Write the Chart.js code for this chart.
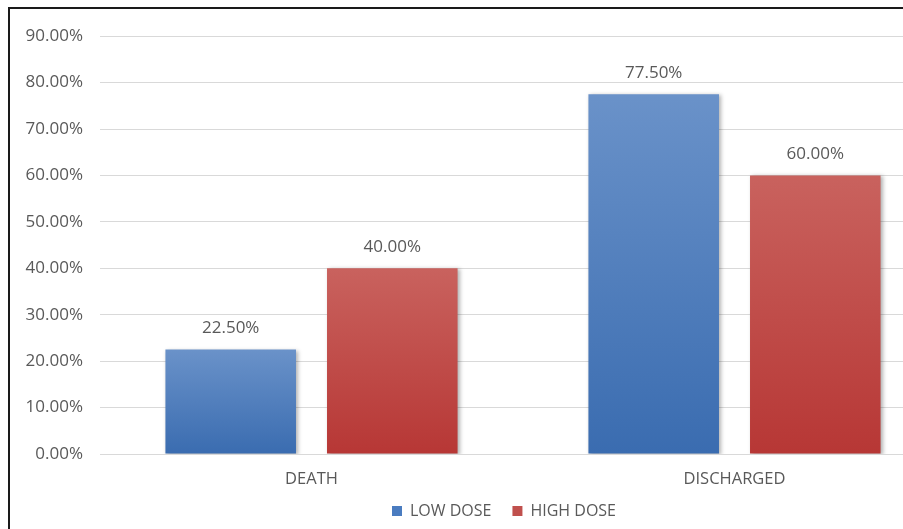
<!DOCTYPE html>
<html>
<head>
<meta charset="utf-8">
<script src="https://cdn.jsdelivr.net/npm/chart.js@4.4.0/dist/chart.umd.min.js"></script>
<style>
  html, body { margin: 0; padding: 0; background: #fff; overflow: hidden; width: 903px; height: 529px; }
  #frame { position: absolute; left: 8px; top: 7px; border-top: 2px solid #1a1a1a; border-left: 2px solid #1a1a1a; width: 1000px; height: 560px; }
  canvas { display: block; }
</style>
</head>
<body>
<div id="frame"><canvas id="chart" width="988" height="528"></canvas></div>
<script>
// data
const categories = ['DEATH', 'DISCHARGED'];
const seriesNames = ['LOW DOSE', 'HIGH DOSE'];
const lowDose = [22.5, 77.5];
const highDose = [40, 60];
const yMin = 0, yMax = 90, yStep = 10;

const textColor = '#595959';
const fontSize = 16.5;
const numberSize = 17;
Chart.defaults.font.family = '"Open Sans", sans-serif';

// vertical gradient per bar, lighter at the top like the Excel style
function barGradient(top, bottom) {
  return (ctx) => {
    const chart = ctx.chart;
    const y = chart.scales.y;
    if (!chart.chartArea || !y || ctx.type !== 'data') return bottom;
    const y0 = y.getPixelForValue(ctx.raw);
    const y1 = y.getPixelForValue(0);
    if (!isFinite(y0) || !isFinite(y1) || y0 === y1) return bottom;
    const g = chart.ctx.createLinearGradient(0, y0, 0, y1);
    g.addColorStop(0, top);
    g.addColorStop(1, bottom);
    return g;
  };
}

const legendColors = ['#4a7cc0', '#c0504d'];

const barShadow = {
  id: 'barShadow',
  beforeDatasetsDraw(chart) {
    const c = chart.ctx;
    c.save();
    c.shadowColor = 'rgba(0,0,0,0.3)';
    c.shadowBlur = 4;
    c.shadowOffsetX = 2;
    c.shadowOffsetY = 1;
  },
  afterDatasetsDraw(chart) {
    chart.ctx.restore();
  }
};

const valueLabels = {
  id: 'valueLabels',
  afterDatasetsDraw(chart) {
    const c = chart.ctx;
    c.save();
    c.font = numberSize + 'px "Open Sans", sans-serif';
    c.fillStyle = textColor;
    c.textAlign = 'center';
    c.textBaseline = 'middle';
    chart.data.datasets.forEach((ds, i) => {
      chart.getDatasetMeta(i).data.forEach((bar, j) => {
        c.fillText(ds.data[j].toFixed(2) + '%', bar.x, bar.y - 21);
      });
    });
    c.restore();
  }
};

// pull the legend up a bit closer to the axis labels (wide item gap needs big padding)
const legendLift = {
  id: 'legendLift',
  afterLayout(chart) {
    if (chart.legend) {
      chart.legend.top -= 8;
      chart.legend.bottom -= 8;
    }
  }
};

new Chart(document.getElementById('chart'), {
  type: 'bar',
  data: {
    labels: categories,
    datasets: [{
      label: seriesNames[0],
      data: lowDose,
      backgroundColor: barGradient('#6a92c9', '#3a6cb0'),
      barPercentage: 0.808,
      categoryPercentage: 0.764
    }, {
      label: seriesNames[1],
      data: highDose,
      backgroundColor: barGradient('#c9625e', '#b73735'),
      barPercentage: 0.808,
      categoryPercentage: 0.764
    }]
  },
  options: {
    responsive: false,
    animation: false,
    events: [],
    layout: { padding: { top: 24, left: 0, right: 0, bottom: 0 } },
    scales: {
      x: {
        grid: { display: false, drawTicks: false },
        border: { display: false },
        ticks: { color: textColor, font: { size: fontSize }, padding: 15 },
        afterFit: (s) => { s.height = 36; }
      },
      y: {
        min: yMin,
        max: yMax,
        ticks: {
          stepSize: yStep,
          color: textColor,
          font: { size: numberSize },
          padding: 17,
          callback: (v) => v.toFixed(2) + '%'
        },
        grid: { color: '#d9d9d9', drawTicks: false },
        border: { display: false },
        afterFit: (s) => { s.width = 90; }
      },
      y2: {
        type: 'linear',
        axis: 'y',
        position: 'right',
        grid: { display: false },
        border: { display: false },
        ticks: { display: false },
        afterFit: (s) => { s.width = 52; }
      }
    },
    plugins: {
      legend: {
        position: 'bottom',
        labels: {
          color: textColor,
          font: { size: 16 },
          boxWidth: 10,
          boxHeight: 10,
          padding: 21,
          generateLabels: (chart) => Chart.defaults.plugins.legend.labels.generateLabels(chart).map((l, i) => ({
            ...l, fillStyle: legendColors[i], strokeStyle: legendColors[i], lineWidth: 0
          }))
        }
      },
      tooltip: { enabled: false }
    }
  },
  plugins: [barShadow, valueLabels, legendLift]
});
</script>
</body>
</html>
